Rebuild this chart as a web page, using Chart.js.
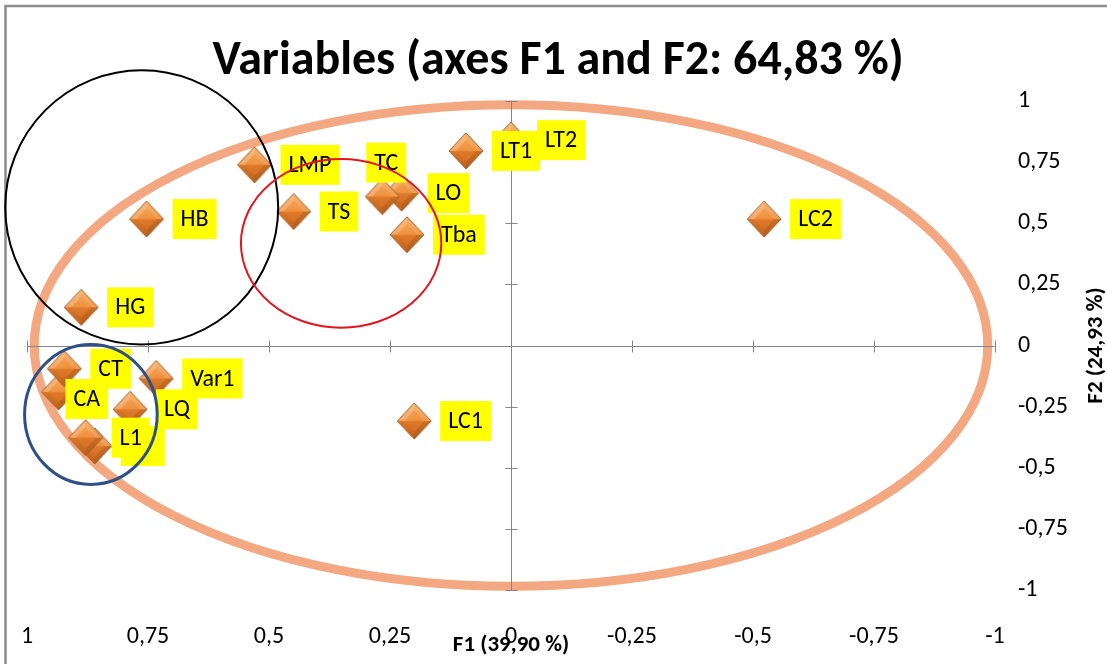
<!DOCTYPE html>
<html>
<head>
<meta charset="utf-8">
<title>Variables (axes F1 and F2: 64,83 %)</title>
<script src="https://cdn.jsdelivr.net/npm/chart.js@4.4.1/dist/chart.umd.min.js"></script>
<style>
  html, body { margin: 0; padding: 0; background: #fff; }
  #wrap { width: 1107px; height: 664px; }
</style>
</head>
<body>
<div id="wrap"><canvas id="pcaChart" width="1107" height="664"></canvas></div>
<script>
// Variable coordinates on F1 / F2 (draw order matters)
const varNames = ['LMP', 'HB', 'HG', 'TS', 'LO', 'TC', 'Tba', 'LT2', 'LT1', 'LC2', 'CA', 'CT', 'Var1', 'LQ', '', 'L1', 'LC1'];
const f1Values = [0.530, 0.753, 0.888, 0.449, 0.226, 0.266, 0.215, 0.000, 0.093, -0.523, 0.935, 0.923, 0.733, 0.787, 0.860, 0.879, 0.200];
const f2Values = [0.739, 0.517, 0.156, 0.548, 0.623, 0.609, 0.453, 0.840, 0.796, 0.517, -0.190, -0.095, -0.135, -0.261, -0.411, -0.377, -0.309];
const axisTicks = [1, 0.75, 0.5, 0.25, 0, -0.25, -0.5, -0.75, -1];

const titleText = 'Variables (axes F1 and F2: 64,83 %)';
const xTitle = 'F1 (39,90 %)';
const yTitle = 'F2 (24,93 %)';

const FONT = 'Carlito, Lato, sans-serif';
const AXIS_GREY = '#868686';

// hand drawn shapes on top of the chart (data units)
const rings = [
    { cx: 0, cy: 0, rx: 0.985, ry: 0.985, color: '#f3a882', width: 9, under: true },
    { cx: 0.763, cy: 0.565, rx: 0.282, ry: 0.561, color: '#000000', width: 2 },
    { cx: 0.351, cy: 0.418, rx: 0.207, ry: 0.345, color: '#e3141c', width: 2 },
    { cx: 0.868, cy: -0.282, rx: 0.137, ry: 0.286, color: '#2f5085', width: 3 }
];

// a few labels were moved by hand in the original
const labelShift = {
    TC: { dx: -42, dy: -34 },
    CA: { dx: -19, dy: 7 }
};

function fmt(v) {
    return String(Number(v.toFixed(2))).replace('.', ',');
}

// bevelled orange diamond used as marker
function makeDiamond() {
    const w = 36, h = 38;
    const c = document.createElement('canvas');
    c.width = w; c.height = h;
    const g = c.getContext('2d');
    const cx = w / 2, cy = h / 2;
    const outer = [[cx, 1], [w - 1, cy], [cx, h - 1], [1, cy]];
    const ins = 7;
    const inner = [[cx, 1 + ins], [w - 1 - ins, cy], [cx, h - 1 - ins], [1 + ins, cy]];

    g.beginPath();
    outer.forEach((p, i) => i ? g.lineTo(p[0], p[1]) : g.moveTo(p[0], p[1]));
    g.closePath();
    const grad = g.createLinearGradient(0, 0, 0, h);
    grad.addColorStop(0, '#f7ad62');
    grad.addColorStop(0.48, '#ef923f');
    grad.addColorStop(0.52, '#e07a2a');
    grad.addColorStop(1, '#c9651d');
    g.fillStyle = grad;
    g.fill();

    const shades = ['rgba(255,255,255,0.22)', 'rgba(255,255,255,0.10)', 'rgba(0,0,0,0.10)', 'rgba(0,0,0,0.04)'];
    // facets: top-left, top-right, bottom-right, bottom-left
    const facets = [[3, 0], [0, 1], [1, 2], [2, 3]];
    facets.forEach((f, k) => {
        g.beginPath();
        g.moveTo(outer[f[0]][0], outer[f[0]][1]);
        g.lineTo(outer[f[1]][0], outer[f[1]][1]);
        g.lineTo(inner[f[1]][0], inner[f[1]][1]);
        g.lineTo(inner[f[0]][0], inner[f[0]][1]);
        g.closePath();
        g.fillStyle = shades[k];
        g.fill();
    });

    g.beginPath();
    outer.forEach((p, i) => i ? g.lineTo(p[0], p[1]) : g.moveTo(p[0], p[1]));
    g.closePath();
    g.strokeStyle = '#a0602c';
    g.lineWidth = 1;
    g.stroke();
    return c;
}

function ringPixels(chart, r) {
    const xs = chart.scales.x, ys = chart.scales.y;
    const px = xs.getPixelForValue(r.cx), py = ys.getPixelForValue(r.cy);
    const prx = Math.abs(xs.getPixelForValue(r.cx + r.rx) - px);
    const pry = Math.abs(ys.getPixelForValue(r.cy + r.ry) - py);
    return [px, py, prx, pry];
}

function drawRing(chart, r) {
    const ctx = chart.ctx;
    const [px, py, prx, pry] = ringPixels(chart, r);
    ctx.save();
    ctx.beginPath();
    ctx.ellipse(px, py, prx, pry, 0, 0, Math.PI * 2);
    ctx.strokeStyle = r.color;
    ctx.lineWidth = r.width;
    ctx.stroke();
    ctx.restore();
}

const framePlugin = {
    id: 'frame',
    beforeDraw(chart) {
        const ctx = chart.ctx;
        ctx.save();
        ctx.fillStyle = '#ffffff';
        ctx.fillRect(0, 0, chart.width, chart.height);
        ctx.strokeStyle = '#8c8c8c';
        ctx.lineWidth = 2.5;
        ctx.strokeRect(5.5, 6, chart.width + 20, chart.height - 3);
        ctx.restore();
    },
    beforeDatasetsDraw(chart) {
        const ctx = chart.ctx;
        const area = chart.chartArea;
        const xs = chart.scales.x, ys = chart.scales.y;
        rings.filter(r => r.under).forEach(r => drawRing(chart, r));

        // axes crossing at 0 with cross tick marks
        const x0 = Math.round(xs.getPixelForValue(0)) + 0.5;
        const y0 = Math.round(ys.getPixelForValue(0)) + 0.5;
        ctx.save();
        ctx.strokeStyle = AXIS_GREY;
        ctx.lineWidth = 1;
        ctx.beginPath();
        ctx.moveTo(area.left, y0); ctx.lineTo(area.right, y0);
        ctx.moveTo(x0, area.top); ctx.lineTo(x0, area.bottom);
        axisTicks.forEach(v => {
            const tx = Math.round(xs.getPixelForValue(v)) + 0.5;
            ctx.moveTo(tx, y0 - 6); ctx.lineTo(tx, y0 + 6);
            const ty = Math.round(ys.getPixelForValue(v)) + 0.5;
            ctx.moveTo(x0 - 6, ty); ctx.lineTo(x0 + 6, ty);
        });
        ctx.stroke();
        ctx.restore();
    },
    afterDatasetsDraw(chart) {
        const ctx = chart.ctx;
        const meta = chart.getDatasetMeta(0);
        ctx.save();
        ctx.font = '24px ' + FONT;
        ctx.textBaseline = 'middle';
        meta.data.forEach((pt, i) => {
            const txt = varNames[i];
            const tw = txt ? ctx.measureText(txt).width : 28;
            const bw = tw + 16, bh = 40;
            const sh = labelShift[txt] || { dx: 0, dy: 0 };
            const bx = pt.x + 26 + sh.dx, by = pt.y - bh / 2 + sh.dy;
            ctx.fillStyle = '#ffff00';
            ctx.fillRect(bx, by, bw, bh);
            if (txt) {
                ctx.fillStyle = '#000000';
                ctx.fillText(txt, bx + 8, by + bh / 2 + 1);
            }
        });
        ctx.restore();
    },
    afterDraw(chart) {
        const ctx = chart.ctx;
        const area = chart.chartArea;
        rings.filter(r => !r.under).forEach(r => drawRing(chart, r));

        ctx.save();
        ctx.fillStyle = '#000000';
        ctx.textAlign = 'center';
        ctx.textBaseline = 'middle';
        ctx.font = 'bold 48px ' + FONT;
        ctx.fillText(titleText, 558, 62);

        ctx.font = 'bold 23px ' + FONT;
        ctx.fillText(xTitle, chart.scales.x.getPixelForValue(0), 645);

        ctx.translate(1096, (area.top + area.bottom) / 2);
        ctx.rotate(-Math.PI / 2);
        ctx.fillText(yTitle, 0, 0);
        ctx.restore();
    }
};

const diamond = makeDiamond();
const points = varNames.map((n, i) => ({ x: f1Values[i], y: f2Values[i] }));

new Chart(document.getElementById('pcaChart'), {
    type: 'scatter',
    data: {
        datasets: [{
            label: 'Variables',
            data: points,
            pointStyle: diamond,
            pointRadius: 18,
            pointHoverRadius: 18
        }]
    },
    options: {
        responsive: false,
        animation: false,
        layout: { padding: { top: 101, left: 27, right: 0, bottom: 0 } },
        plugins: {
            legend: { display: false },
            tooltip: { enabled: false },
            title: { display: false }
        },
        scales: {
            x: {
                type: 'linear',
                reverse: true,
                min: -1,
                max: 1,
                grid: { display: false },
                border: { display: false },
                afterFit: scale => {
                    scale.height = 74;
                    scale.paddingLeft = 0;
                    scale.paddingRight = 0;
                },
                ticks: {
                    stepSize: 0.25,
                    padding: 25,
                    color: '#000',
                    font: { family: FONT, size: 24 },
                    maxRotation: 0,
                    callback: v => fmt(v)
                }
            },
            y: {
                type: 'linear',
                position: 'right',
                min: -1,
                max: 1,
                grid: { display: false },
                border: { display: false },
                afterFit: scale => {
                    scale.width = 112;
                    scale.paddingTop = 0;
                    scale.paddingBottom = 0;
                },
                ticks: {
                    stepSize: 0.25,
                    padding: 15,
                    color: '#000',
                    font: { family: FONT, size: 24 },
                    callback: v => fmt(v)
                }
            }
        }
    },
    plugins: [framePlugin]
});
</script>
</body>
</html>
